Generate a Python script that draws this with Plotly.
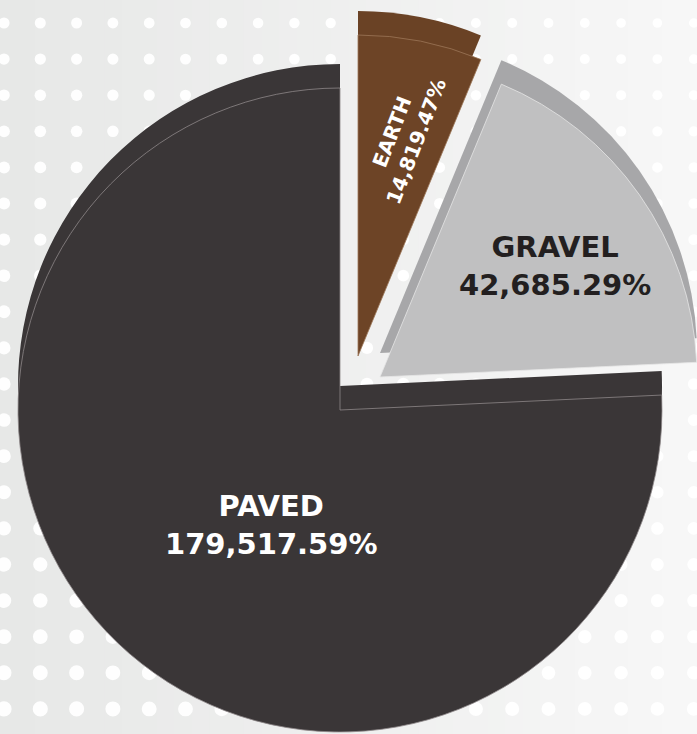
import plotly.graph_objects as go

# ---- data ----
labels = ["EARTH", "GRAVEL", "PAVED"]
values = [14819.47, 42685.29, 179517.59]
face_colors = ["#6d4426", "#c0c0c1", "#3a3637"]
rim_colors = ["#6a4225", "#a7a7a9", "#3a3637"]
edge_colors = ["#9c7658", "#e6e6e6", "#8e8889"]
text_colors = ["#ffffff", "#231f20", "#ffffff"]

W, H = 697, 734
CLEAR = "rgba(0,0,0,0)"

# geometry (pixels): face centre of each exploded slice, radius, rim lift
centers = [(358, 356), (380, 377), (340, 410)]
radii = [321, 317, 322]
RIM = 24


def domain_for(cx, cy, r):
    x0 = max(0.0, (cx - r) / W)
    x1 = min(1.0, (cx + r) / W)
    y0 = max(0.0, (H - cy - r) / H)
    y1 = min(1.0, (H - cy + r) / H)
    return dict(x=[x0, x1], y=[y0, y1])


fig = go.Figure()

# rims (3D thickness) first, then faces
for layer in ("rim", "face"):
    for i, lab in enumerate(labels):
        cx, cy = centers[i]
        if layer == "rim":
            cy = cy - RIM
            col = rim_colors[i]
            lcol = CLEAR
        else:
            col = face_colors[i]
            lcol = edge_colors[i]
        colors = [CLEAR] * len(labels)
        colors[i] = col
        lines = [CLEAR] * len(labels)
        lines[i] = lcol
        fig.add_trace(go.Pie(
            labels=labels, values=values, sort=False,
            direction="clockwise", rotation=0,
            marker=dict(colors=colors, line=dict(color=lines, width=0.8)),
            textinfo="none", hoverinfo="skip", showlegend=False,
            domain=domain_for(cx, cy, radii[i]),
        ))

# labels
label_pos = [(404, 137), (555, 266), (271, 525)]
label_size = [20, 29, 29]
label_angle = [-69, 0, 0]
for i, lab in enumerate(labels):
    x, y = label_pos[i]
    fig.add_annotation(
        x=x / W, y=1 - y / H, xref="paper", yref="paper",
        xanchor="center", yanchor="middle", showarrow=False,
        text=f"<b>{lab}<br>{values[i]:,.2f}%</b>",
        textangle=label_angle[i],
        font=dict(family="DejaVu Sans", size=label_size[i], color=text_colors[i]),
        align="center",
    )

# background: soft horizontal gradient + white dot pattern (decoration)
shapes = []
NSTRIP = 40
c0 = (0xE7, 0xE8, 0xE7)
c1 = (0xF7, 0xF7, 0xF7)
for s in range(NSTRIP):
    t = s / (NSTRIP - 1)
    rgb = tuple(int(round(a + (b - a) * t)) for a, b in zip(c0, c1))
    shapes.append(dict(
        type="rect", xref="paper", yref="paper", layer="below",
        x0=s / NSTRIP, x1=(s + 1) / NSTRIP + 0.002, y0=0, y1=1,
        fillcolor="rgb(%d,%d,%d)" % rgb, line=dict(width=0),
    ))
for j in range(21):
    for k in range(20):
        px = 4 + 36.3 * k
        py = 23 + 36.1 * j
        r = 5.5 + 2.2 * (py / H) - 0.8 * (px / W)
        shapes.append(dict(
            type="circle", xref="paper", yref="paper", layer="below",
            x0=(px - r) / W, x1=(px + r) / W,
            y0=1 - (py + r) / H, y1=1 - (py - r) / H,
            fillcolor="rgba(255,255,255,0.95)", line=dict(width=0),
        ))

fig.update_layout(
    width=W, height=H, autosize=False,
    margin=dict(l=0, r=0, t=0, b=0),
    paper_bgcolor="#eeeeee", plot_bgcolor="#eeeeee",
    shapes=shapes,
)

fig.write_html("out.html",
               config={"displayModeBar": False, "staticPlot": True},
               post_script="document.body.style.margin='0px';"
                           "document.body.style.overflow='hidden';")
